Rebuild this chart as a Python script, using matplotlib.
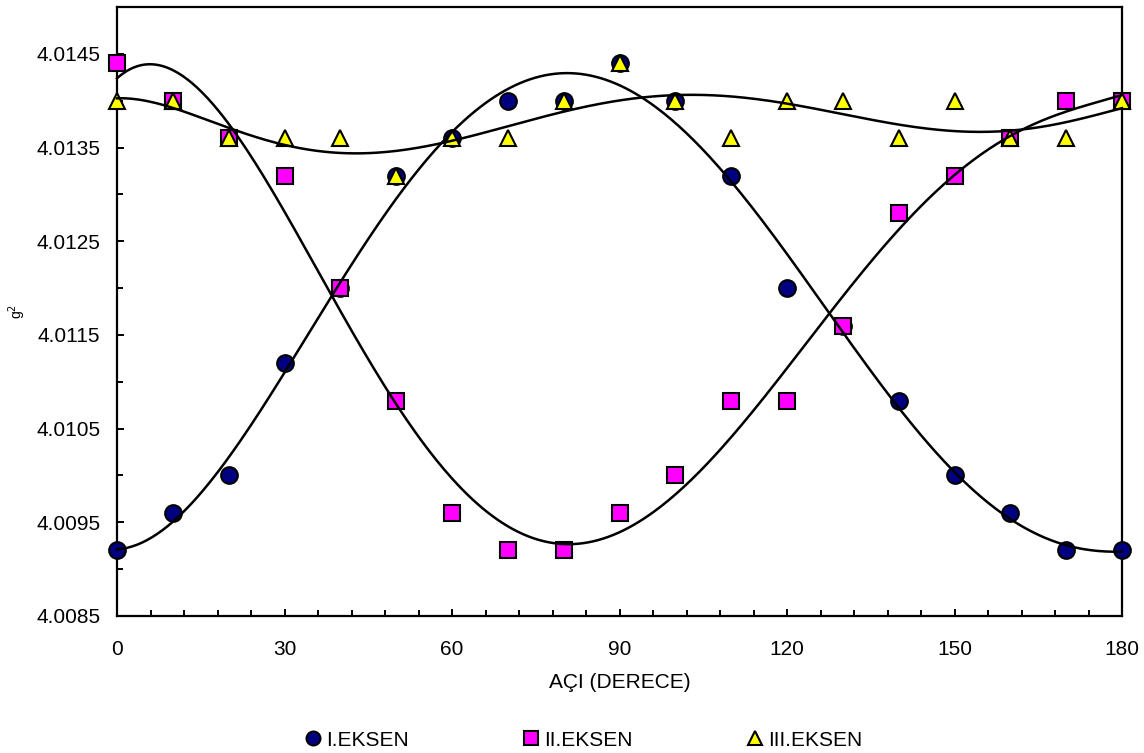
import numpy as np
import matplotlib
matplotlib.use("Agg")
import matplotlib.pyplot as plt
from matplotlib.lines import Line2D
from matplotlib.ticker import MultipleLocator, FormatStrFormatter

plt.rcParams['font.family'] = ['Liberation Sans', 'DejaVu Sans']

# Rotation angle (degrees)
angle = [0, 10, 20, 30, 40, 50, 60, 70, 80, 90, 100, 110, 120, 130, 140, 150, 160, 170, 180]

# g^2 values along each rotation axis
eksen_1 = [4.0092, 4.0096, 4.0100, 4.0112, 4.0120, 4.0132, 4.0136, 4.0140, 4.0140, 4.0144,
           4.0140, 4.0132, 4.0120, 4.0116, 4.0108, 4.0100, 4.0096, 4.0092, 4.0092]
eksen_2 = [4.0144, 4.0140, 4.0136, 4.0132, 4.0120, 4.0108, 4.0096, 4.0092, 4.0092, 4.0096,
           4.0100, 4.0108, 4.0108, 4.0116, 4.0128, 4.0132, 4.0136, 4.0140, 4.0140]
eksen_3 = [4.0140, 4.0140, 4.0136, 4.0136, 4.0136, 4.0132, 4.0136, 4.0136, 4.0140, 4.0144,
           4.0140, 4.0136, 4.0140, 4.0140, 4.0136, 4.0140, 4.0136, 4.0136, 4.0140]

labels = ['I.EKSEN', 'II.EKSEN', 'III.EKSEN']
face_colors = ['#000080', '#FF00FF', '#FFFF00']
markers = ['o', 's', '^']
poly_order = 6

fig = plt.figure(figsize=(11.44, 7.53), dpi=100)
ax = fig.add_axes([117 / 1144, 1 - 616 / 753, (1122 - 117) / 1144, (616 - 7) / 753])

x = np.asarray(angle, dtype=float)
xs = np.linspace(0, 180, 400)
for vals, fc, mk in zip([eksen_1, eksen_2, eksen_3], face_colors, markers):
    y = np.asarray(vals)
    ax.plot(x, y, linestyle='none', marker=mk, markersize=12,
            markerfacecolor=fc, markeredgecolor='black', markeredgewidth=1.5,
            clip_on=False, zorder=3)

# polynomial trendlines drawn over the markers
for vals in [eksen_1, eksen_2, eksen_3]:
    y = np.asarray(vals)
    coef = np.polyfit(x / 180.0, y - 4.01, poly_order)
    ax.plot(xs, np.polyval(coef, xs / 180.0) + 4.01, color='black', lw=1.8,
            zorder=4, clip_on=False)

ax.set_xlim(0, 180)
ax.set_ylim(4.0085, 4.0150)
ax.xaxis.set_major_locator(MultipleLocator(30))
ax.xaxis.set_minor_locator(MultipleLocator(6))
ax.set_yticks(np.arange(4.0085, 4.01451, 0.001))
ax.yaxis.set_minor_locator(MultipleLocator(0.0005))
ax.yaxis.set_major_formatter(FormatStrFormatter('%.4f'))

ax.tick_params(which='both', direction='in', width=1.4, labelsize=15,
               top=False, right=False)
ax.tick_params(which='major', length=5)
ax.tick_params(which='minor', length=4)
ax.tick_params(axis='y', pad=12)
ax.tick_params(axis='x', pad=17)
for sp in ax.spines.values():
    sp.set_linewidth(1.6)

ax.set_xlabel('AÇI (DERECE)', fontsize=15, labelpad=10)
fig.text(17 / 1144, 1 - 311 / 753, 'g$^2$', rotation=90, fontsize=10,
         ha='center', va='center')

handles = [Line2D([], [], linestyle='none', marker=mk, markersize=10,
                  markerfacecolor=fc, markeredgecolor='black', markeredgewidth=1.5)
           for mk, fc in zip(markers, face_colors)]
fig.legend(handles, labels, loc='center', bbox_to_anchor=(584 / 1144, 1 - 740 / 753),
           ncol=3, frameon=False, fontsize=15, handlelength=0.7, handletextpad=0.3,
           columnspacing=5.5, borderaxespad=0)

fig.savefig('out.png', dpi=100)
